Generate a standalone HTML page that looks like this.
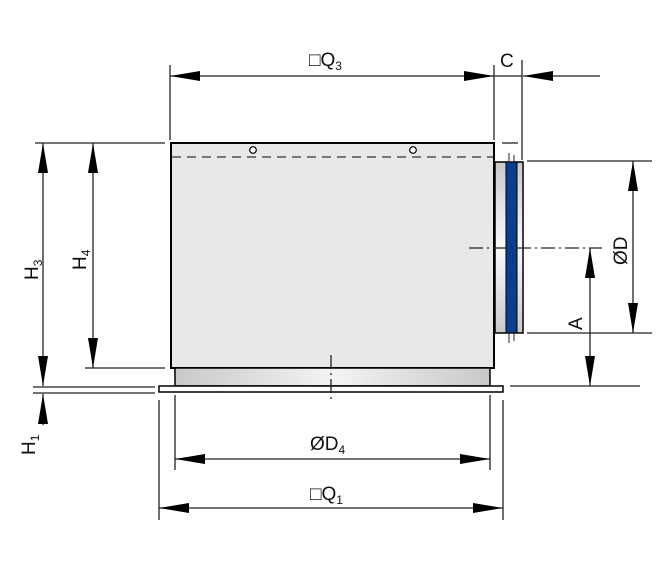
<!DOCTYPE html>
<html><head><style>body{margin:0;background:#fff}svg{display:block}text{font-family:"Liberation Sans",sans-serif;fill:#111}</style></head><body>
<svg width="660" height="569" viewBox="0 0 660 569" xmlns="http://www.w3.org/2000/svg">
<defs>
<linearGradient id="g1" x1="0" x2="1"><stop offset="0" stop-color="#c8c8c8"/><stop offset="0.5" stop-color="#f4f4f4"/><stop offset="1" stop-color="#c8c8c8"/></linearGradient>
<linearGradient id="g2" x1="0" x2="0" y1="0" y2="1"><stop offset="0" stop-color="#c9c9c9"/><stop offset="0.5" stop-color="#fafafa"/><stop offset="1" stop-color="#c9c9c9"/></linearGradient>
<marker id="a" viewBox="0 0 30 10" refX="30" refY="5" markerWidth="30" markerHeight="10" markerUnits="userSpaceOnUse" orient="auto-start-reverse"><path d="M0,0L30,5L0,10z" fill="#000"/></marker>
</defs>
<g stroke="#222" stroke-width="1.3" fill="none">
<!-- extension lines -->
<line x1="170" y1="65" x2="170" y2="140"/>
<line x1="494" y1="65" x2="494" y2="140"/>
<line x1="522" y1="60" x2="522" y2="160"/>
<line x1="502" y1="143" x2="518" y2="143"/>
<line x1="35" y1="143" x2="165" y2="143"/>
<line x1="85" y1="368" x2="165" y2="368"/>
<line x1="33" y1="387" x2="155" y2="387"/>
<line x1="33" y1="393" x2="155" y2="393"/>
<line x1="527" y1="161" x2="652" y2="161"/>
<line x1="527" y1="333" x2="652" y2="333"/>
<line x1="510" y1="386" x2="640" y2="386"/>
<line x1="175" y1="395" x2="175" y2="470"/>
<line x1="490" y1="395" x2="490" y2="470"/>
<line x1="159" y1="400" x2="159" y2="520"/>
<line x1="503" y1="400" x2="503" y2="520"/>
<!-- dims -->
<line x1="170" y1="76" x2="494" y2="76" marker-start="url(#a)" marker-end="url(#a)"/>
<line x1="494" y1="76" x2="522" y2="76"/>
<line x1="600" y1="76" x2="523" y2="76" marker-end="url(#a)"/>
<line x1="43" y1="143" x2="43" y2="386" marker-start="url(#a)" marker-end="url(#a)"/>
<line x1="43" y1="425" x2="43" y2="394" marker-end="url(#a)"/>
<line x1="93" y1="143" x2="93" y2="368" marker-start="url(#a)" marker-end="url(#a)"/>
<line x1="633" y1="161" x2="633" y2="333" marker-start="url(#a)" marker-end="url(#a)"/>
<line x1="590" y1="248" x2="590" y2="386" marker-start="url(#a)" marker-end="url(#a)"/>
<line x1="175" y1="459" x2="490" y2="459" marker-start="url(#a)" marker-end="url(#a)"/>
<line x1="159" y1="508" x2="503" y2="508" marker-start="url(#a)" marker-end="url(#a)"/>
</g>
<!-- body -->
<rect x="171" y="143" width="323" height="225" fill="#e8e8e8" stroke="#000" stroke-width="2"/>
<line x1="172" y1="157" x2="493" y2="157" stroke="#333" stroke-width="1.3" stroke-dasharray="9,6"/>
<circle cx="253" cy="150" r="3.3" fill="#fff" stroke="#000" stroke-width="1.2"/>
<circle cx="413" cy="150" r="3.3" fill="#fff" stroke="#000" stroke-width="1.2"/>
<rect x="175" y="368" width="315" height="18" fill="url(#g1)" stroke="#000" stroke-width="1.5"/>
<rect x="159" y="386" width="344" height="6" fill="#fff" stroke="#000" stroke-width="1.5"/>
<!-- spigot -->
<rect x="495" y="162" width="28" height="171" fill="url(#g2)" stroke="#000" stroke-width="1.5"/>
<rect x="506" y="162" width="11" height="171" fill="#0a3f8f" stroke="#000" stroke-width="1"/>
<line x1="509" y1="153" x2="509" y2="162" stroke="#222"/><line x1="514" y1="155" x2="514" y2="162" stroke="#222"/>
<line x1="509" y1="333" x2="509" y2="343" stroke="#222"/><line x1="514" y1="333" x2="514" y2="341" stroke="#222"/>
<line x1="469" y1="248" x2="602" y2="248" stroke="#222" stroke-width="1.3" stroke-dasharray="14,4,2,4"/>
<line x1="331" y1="355" x2="331" y2="400" stroke="#222" stroke-width="1.3" stroke-dasharray="14,4,2,4"/>
<!-- labels -->
<text x="309" y="66" font-size="19">□Q<tspan font-size="12" dy="4">3</tspan></text>
<text x="500" y="67" font-size="19">C</text>
<text x="310" y="450" font-size="19">ØD<tspan font-size="12" dy="4">4</tspan></text>
<text x="310" y="500" font-size="19">□Q<tspan font-size="12" dy="4">1</tspan></text>
<text transform="translate(38,280) rotate(-90)" font-size="19">H<tspan font-size="12" dy="4">3</tspan></text>
<text transform="translate(86,270) rotate(-90)" font-size="19">H<tspan font-size="12" dy="4">4</tspan></text>
<text transform="translate(35,455) rotate(-90)" font-size="19">H<tspan font-size="12" dy="4">1</tspan></text>
<text transform="translate(627,265) rotate(-90)" font-size="19">ØD</text>
<text transform="translate(582,330) rotate(-90)" font-size="19">A</text>
</svg>
</body></html>
